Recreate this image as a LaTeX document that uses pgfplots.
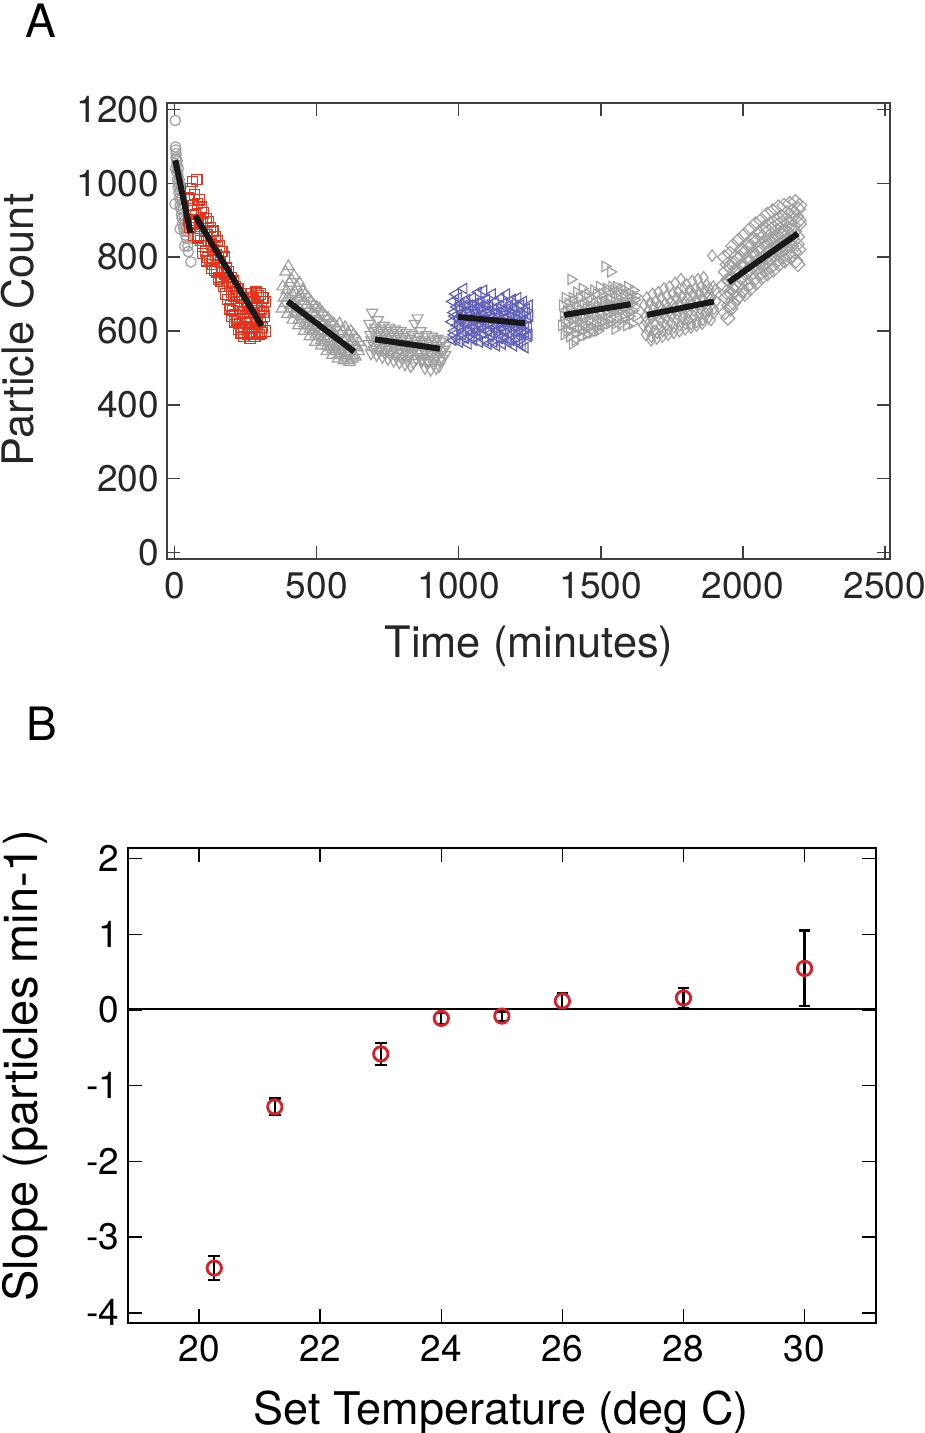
\documentclass[border=0pt]{standalone}
\usepackage{pgfplots}
\pgfplotsset{compat=1.18}
\usepackage{fontspec}
\setmainfont{TeX Gyre Heros}
\definecolor{ptgray}{RGB}{160,160,160}
\definecolor{ptred}{RGB}{232,50,28}
\definecolor{ptblue}{RGB}{96,96,186}
\definecolor{bred}{RGB}{220,30,40}
\definecolor{fitline}{RGB}{25,25,25}
\begin{document}
\begin{tikzpicture}
\path[use as bounding box] (0,0) rectangle (462.5pt,-716.5pt);
\node[anchor=base, font=\fontsize{23}{26}\selectfont] at (20.5pt,-19pt) {A};
\node[anchor=base, font=\fontsize{23}{26}\selectfont] at (21pt,-370pt) {B};
\begin{axis}[
  at={(83.65pt,-279.65pt)}, anchor=south west,
  scale only axis, width=361.35pt, height=228.3pt,
  xmin=-26, xmax=2518, ymin=-18, ymax=1218,
  xtick={0,500,...,2500}, ytick={0,200,...,1200},
  tick align=inside, tick pos=both, major tick length=6.5pt,
  axis line style={draw=black!75, line width=1pt},
  tick style={black!75, line width=0.7pt},
  scaled ticks=false,
  clip marker paths=true,
  /pgf/number format/assume math mode=true,
  /pgf/number format/1000 sep={},
  ticklabel style={font=\fontsize{18.5}{21}\selectfont, text=black!85},
  yticklabel style={inner sep=0pt, xshift=-4pt},
  xticklabel style={inner sep=0pt, yshift=-6.2pt},
  xlabel={Time (minutes)}, ylabel={Particle Count},
  label style={font=\fontsize{21.7}{24}\selectfont, text=black!85},
  xlabel style={at={(axis description cs:0.5005,-0.214)}, anchor=base},
  ylabel style={at={(axis description cs:-0.1858,0.502)}, anchor=base},
  fitstyle/.style={draw=fitline, solid, line width=3pt, mark=none, line cap=butt},
]
% segment 1: gray circles
\addplot[only marks, mark=o, mark size=2.6pt, mark options={draw=ptgray, line width=0.6pt}] coordinates {
(2,1170) (4,1090) (5,1080) (6,1065) (3,1040) (7,1050) (8,1030) (9,1060) (10,1010) (11,1025) (12,990) (13,1040) (14,1000) (15,975) (16,1010) (17,960) (18,995) (19,940) (20,980) (21,955) (22,930) (23,990) (24,915) (25,960) (26,905) (27,945) (28,890) (30,930) (31,880) (33,910) (34,870) (36,900) (38,860) (40,880) (42,850) (44,870) (46,830) (48,815) (57,787) (35,830) (1,944) (19,876) (3,1098) (5,1070)
};
% segment 2: red squares
\addplot[only marks, mark=square, mark size=2.6pt, mark options={draw=ptred, line width=0.6pt}] coordinates {
(48,960) (51,900)
(55,985) (58,925) (53,880)
(62,1005) (65,940) (60,890)
(70,970) (73,915) (68,860)
(78,1010) (81,945) (76,895) (82,850)
(86,955) (89,900) (84,855)
(94,935) (97,890) (92,845) (98,810)
(102,920) (105,870) (100,830)
(110,905) (113,860) (108,815) (114,790)
(118,895) (121,845) (116,800)
(126,880) (129,835) (124,790) (130,770)
(134,870) (137,820) (132,780)
(142,855) (145,805) (140,765)
(150,845) (153,800) (148,760) (154,740)
(158,830) (161,785) (156,745)
(166,815) (169,770) (164,735)
(174,800) (177,755) (172,720)
(182,770) (185,735) (180,700)
(190,760) (193,720) (188,685) (194,660)
(198,745) (201,705) (196,670) (202,640)
(206,735) (209,695) (204,655) (210,625)
(214,720) (217,680) (212,645)
(222,715) (225,670) (220,630) (226,605)
(230,700) (233,660) (228,620) (234,595)
(238,690) (241,650) (236,610) (242,585)
(246,680) (249,640) (244,605)
(254,700) (257,660) (252,620) (258,590)
(262,690) (265,650) (260,610) (266,580)
(270,700) (273,665) (268,625) (274,595)
(278,690) (281,650) (276,610) (282,585)
(286,705) (289,670) (284,630) (290,600)
(294,695) (297,655) (292,620) (298,590)
(302,700) (305,660) (300,625) (306,595)
(310,690) (313,650) (308,610)
(318,680) (316,640) (320,600)
};
% segment 3: gray up triangles
\addplot[only marks, mark=triangle, mark size=3.2pt, mark options={draw=ptgray, line width=0.6pt}] coordinates {
(380,720) (384,690) (377,660)
(390,760) (394,710) (387,675) (396,645)
(400,775) (404,730) (397,690) (406,660)
(410,740) (414,700) (407,670) (416,645)
(420,750) (424,705) (417,675) (426,650) (415,630)
(430,720) (434,690) (427,660) (436,630)
(440,730) (444,695) (437,665) (446,640) (435,615)
(450,710) (454,680) (447,650) (456,620)
(460,700) (464,670) (457,640) (466,615) (455,600)
(470,690) (474,660) (467,635) (476,605)
(480,680) (484,650) (477,625) (486,600) (475,585)
(490,670) (494,645) (487,615) (496,590)
(500,665) (504,635) (497,610) (506,585) (495,570)
(510,660) (514,625) (507,600) (516,575)
(520,650) (524,620) (517,595) (526,570) (515,560)
(530,640) (534,610) (527,585) (536,560)
(540,635) (544,605) (537,580) (546,555) (535,545)
(550,625) (554,595) (547,570) (556,550)
(560,620) (564,590) (557,565) (566,545) (555,535)
(570,610) (574,580) (567,555) (576,535)
(580,620) (584,590) (577,560) (586,540) (575,525)
(590,600) (594,575) (587,550) (596,530)
(600,610) (604,580) (597,555) (606,535) (595,520)
(610,595) (614,565) (607,540) (616,520)
(620,600) (624,570) (617,545) (626,525) (615,515)
(630,590) (634,560) (627,535)
(640,580) (644,555) (637,530)
(650,570) (648,545)
};
% segment 4: gray down triangles
\addplot[only marks, mark=triangle, mark size=3.2pt, mark options={draw=ptgray, line width=0.6pt, rotate=180}] coordinates {
(685,620) (689,590) (682,565) (691,540)
(695,650) (699,600) (692,575) (701,550)
(705,610) (709,585) (702,560) (711,535)
(715,630) (719,595) (712,570) (721,545)
(725,605) (729,580) (722,555) (731,530)
(735,615) (739,590) (732,565) (741,540)
(745,600) (749,575) (742,550) (751,525)
(755,610) (759,585) (752,560) (761,535)
(765,595) (769,570) (762,545) (771,520)
(775,605) (779,580) (772,555) (781,530)
(785,590) (789,565) (782,540) (791,515)
(795,600) (799,575) (792,550) (801,525)
(805,585) (809,560) (802,540) (811,510)
(815,595) (819,570) (812,545) (821,520)
(825,580) (829,555) (822,535) (831,505)
(835,590) (839,565) (832,540) (841,515)
(845,620) (849,575) (842,550) (851,525)
(855,635) (859,585) (852,560) (861,530)
(865,600) (869,570) (862,545) (871,520)
(875,575) (879,550) (872,525) (881,500)
(885,590) (889,565) (882,540) (891,515)
(895,570) (899,545) (892,520) (901,495)
(905,585) (909,560) (902,535) (911,510)
(915,575) (919,550) (912,525) (921,500)
(925,580) (929,555) (922,530) (931,505)
(935,570) (939,545) (932,520)
(945,575) (949,550) (942,525)
(955,560) (952,535)
};
% segment 5: blue left triangles
\addplot[only marks, mark=triangle, mark size=3.0pt, mark options={draw=ptblue, line width=0.6pt, rotate=90}] coordinates {
(978,680) (982,650) (975,625) (984,600) (980,575)
(988,700) (992,665) (985,640) (994,615) (983,590)
(998,690) (1002,660) (995,635) (1004,610) (993,580)
(1008,675) (1012,650) (1005,625) (1014,600) (1003,570)
(1018,715) (1022,670) (1015,645) (1024,620) (1013,590)
(1028,685) (1032,655) (1025,630) (1034,605) (1023,580)
(1038,670) (1042,645) (1035,620) (1044,595) (1033,565)
(1048,690) (1052,660) (1045,635) (1054,610) (1043,585)
(1058,675) (1062,650) (1055,625) (1064,600) (1053,575)
(1068,705) (1072,665) (1065,640) (1074,615) (1063,590)
(1078,680) (1082,655) (1075,630) (1084,605) (1073,570)
(1088,710) (1092,670) (1085,645) (1094,620) (1083,595)
(1098,685) (1102,655) (1095,630) (1104,600) (1093,575)
(1108,670) (1112,645) (1105,620) (1114,595) (1103,565)
(1118,700) (1122,660) (1115,635) (1124,610) (1113,585)
(1128,680) (1132,650) (1125,625) (1134,600) (1123,570)
(1138,665) (1142,640) (1135,615) (1144,590) (1133,560)
(1148,690) (1152,655) (1145,630) (1154,605) (1143,580)
(1158,675) (1162,645) (1155,620) (1164,595) (1153,565)
(1168,700) (1172,660) (1165,635) (1174,610) (1163,580)
(1178,670) (1182,645) (1175,620) (1184,590) (1173,570)
(1188,685) (1192,655) (1185,625) (1194,600) (1183,575)
(1198,665) (1202,640) (1195,615) (1204,590) (1193,560)
(1208,690) (1212,650) (1205,625) (1214,600) (1203,575)
(1218,670) (1222,640) (1215,615) (1224,590) (1213,565)
(1228,680) (1232,650) (1225,620) (1234,595) (1223,560)
(1238,660) (1242,635) (1235,610) (1244,585) (1233,555)
(1248,670) (1250,640) (1245,615) (1247,590)
};
% segment 6: gray right triangles
\addplot[only marks, mark=triangle, mark size=3.0pt, mark options={draw=ptgray, line width=0.6pt, rotate=-90}] coordinates {
(1365,670) (1369,640) (1362,615) (1371,590)
(1375,690) (1379,655) (1372,625) (1381,600)
(1385,675) (1389,645) (1382,620) (1391,585)
(1395,740) (1399,690) (1392,660) (1401,630) (1390,600) (1400,565)
(1405,680) (1409,650) (1402,620) (1411,595)
(1415,705) (1419,665) (1412,635) (1421,610) (1410,575)
(1425,690) (1429,655) (1422,625) (1431,600)
(1435,715) (1439,670) (1432,640) (1441,615) (1430,585)
(1445,695) (1449,660) (1442,635) (1451,605)
(1455,700) (1459,670) (1452,645) (1461,615) (1450,590)
(1465,690) (1469,660) (1462,630) (1471,605)
(1475,710) (1479,675) (1472,645) (1481,620) (1470,595)
(1485,700) (1489,665) (1482,640) (1491,610)
(1495,720) (1499,680) (1492,650) (1501,625) (1490,600)
(1505,700) (1509,670) (1502,645) (1511,615)
(1515,775) (1519,715) (1512,680) (1521,655) (1510,625)
(1525,705) (1529,675) (1522,645) (1531,620)
(1535,760) (1539,720) (1532,685) (1541,660) (1530,630)
(1545,710) (1549,680) (1542,650) (1551,620)
(1555,720) (1559,690) (1552,660) (1561,635) (1550,605)
(1565,705) (1569,675) (1562,650) (1571,620)
(1575,715) (1579,690) (1572,660) (1581,635)
(1585,700) (1589,675) (1582,645) (1591,615)
(1595,720) (1599,690) (1592,665) (1601,640)
(1605,700) (1609,675) (1602,650) (1611,620)
(1615,710) (1619,685) (1612,655)
(1623,695) (1620,665) (1625,640)
};
% segment 7: gray diamonds
\addplot[only marks, mark=diamond, mark size=2.9pt, mark options={draw=ptgray, line width=0.6pt}] coordinates {
(1652,670) (1656,640) (1649,615) (1658,590)
(1662,690) (1666,655) (1659,625) (1668,600)
(1672,675) (1676,645) (1669,610) (1678,585)
(1682,700) (1686,665) (1679,635) (1688,600) (1677,575)
(1692,680) (1696,650) (1689,620) (1698,595)
(1702,705) (1706,670) (1699,640) (1708,610) (1697,580)
(1712,690) (1716,660) (1709,630) (1718,600)
(1722,715) (1726,675) (1719,645) (1728,615) (1717,585)
(1732,695) (1736,665) (1729,635) (1738,605)
(1742,720) (1746,680) (1739,650) (1748,620) (1737,590)
(1752,700) (1756,670) (1749,640) (1758,610)
(1762,730) (1766,690) (1759,660) (1768,630) (1757,595)
(1772,705) (1776,675) (1769,645) (1778,615)
(1782,740) (1786,695) (1779,665) (1788,635) (1777,600)
(1792,715) (1796,680) (1789,650) (1798,620)
(1802,725) (1806,690) (1799,660) (1808,630) (1797,605)
(1812,710) (1816,680) (1809,650) (1818,620)
(1822,735) (1826,700) (1819,670) (1828,640) (1817,610)
(1832,715) (1836,685) (1829,655) (1838,625)
(1842,740) (1846,705) (1839,675) (1848,645) (1837,615)
(1852,720) (1856,690) (1849,660) (1858,630)
(1862,745) (1866,710) (1859,680) (1868,650) (1857,620)
(1872,725) (1876,695) (1869,665) (1878,635)
(1882,715) (1886,685) (1879,655) (1888,630)
(1892,804) (1896,720) (1889,690) (1898,660)
(1902,710) (1906,680) (1899,650)
};
% segment 8: gray squares turned 45 degrees
\addplot[only marks, mark=square, mark size=2.5pt, mark options={draw=ptgray, line width=0.6pt, rotate=45}] coordinates {
(1935,800) (1939,760) (1932,725) (1941,690) (1937,650)
(1945,780) (1949,740) (1942,705) (1951,670) (1947,635)
(1955,810) (1959,770) (1952,735) (1961,700) (1957,660)
(1965,830) (1969,785) (1962,745) (1971,710) (1967,675)
(1975,800) (1979,760) (1972,725) (1981,690)
(1985,845) (1989,800) (1982,765) (1991,730) (1987,695)
(1995,820) (1999,780) (1992,745) (2001,710)
(2005,860) (2009,815) (2002,775) (2011,740) (2007,700)
(2015,835) (2019,795) (2012,760) (2021,725)
(2025,875) (2029,830) (2022,790) (2031,755) (2027,715)
(2035,850) (2039,810) (2032,775) (2041,740)
(2045,890) (2049,845) (2042,805) (2051,770) (2047,730)
(2055,865) (2059,825) (2052,790) (2061,755)
(2065,900) (2069,855) (2062,815) (2071,780) (2067,745)
(2075,880) (2079,840) (2072,800) (2081,765)
(2085,915) (2089,870) (2082,830) (2091,795) (2087,755)
(2095,890) (2099,850) (2092,815) (2101,775)
(2105,925) (2109,880) (2102,840) (2111,805) (2107,765)
(2115,900) (2119,860) (2112,825) (2121,790)
(2125,935) (2129,890) (2122,850) (2131,815) (2127,780)
(2135,910) (2139,870) (2132,835) (2141,800)
(2145,940) (2149,900) (2142,860) (2151,825) (2147,790)
(2155,920) (2159,880) (2152,845) (2161,810)
(2165,945) (2169,905) (2162,865) (2171,830) (2167,800)
(2175,925) (2179,885) (2172,850) (2181,815)
(2185,950) (2189,910) (2182,870) (2191,835) (2187,790)
(2195,930) (2199,890) (2192,855) (2197,820) (2194,780)
(2200,940) (2198,900)
};
% fitted lines
\addplot[fitstyle] coordinates {(2,1062) (56,865)};
\addplot[fitstyle] coordinates {(72,912) (306,614)};
\addplot[fitstyle] coordinates {(398,680) (632,544)};
\addplot[fitstyle] coordinates {(705,577.5) (934,552)};
\addplot[fitstyle] coordinates {(998,638) (1233,621)};
\addplot[fitstyle] coordinates {(1371,643.5) (1605,672.5)};
\addplot[fitstyle] coordinates {(1663,643.5) (1898,680)};
\addplot[fitstyle] coordinates {(1950,732) (2194,864)};
\end{axis}

\begin{axis}[
  at={(64.15pt,-661.65pt)}, anchor=south west,
  scale only axis, width=373.85pt, height=237.5pt,
  xmin=18.83, xmax=31.18, ymin=-4.14, ymax=2.137,
  xtick={20,22,...,30}, ytick={-4,-3,...,2},
  tick align=inside, tick pos=both, major tick length=7pt,
  axis line style={draw=black, line width=1pt},
  tick style={black, line width=0.8pt},
  /pgf/number format/assume math mode=true,
  ticklabel style={font=\fontsize{18.5}{21}\selectfont},
  yticklabel style={inner sep=0pt, xshift=-4.5pt},
  xticklabel style={inner sep=0pt, yshift=-5.85pt},
  xlabel={Set Temperature (deg C)}, ylabel={Slope (particles min-1)},
  xlabel style={font=\fontsize{22.5}{25}\selectfont, at={(axis description cs:0.4991,-0.212)}, anchor=base},
  ylabel style={font=\fontsize{23.5}{26}\selectfont, at={(axis description cs:-0.1208,0.5417)}, anchor=base},
]
\addplot[black, line width=0.9pt, no marks, forget plot] coordinates {(18.83,0.01) (31.18,0.01)};
\addplot[only marks, mark=o, mark size=3.6pt, mark options={draw=bred, line width=1.4pt},
  error bars/.cd, y dir=both, y explicit,
  error bar style={black, line width=1.1pt},
  error mark options={black, line width=1.1pt, mark size=2.9pt, rotate=90}]
coordinates {
(20.25,-3.41) +- (0,0.16)
(21.25,-1.28) +- (0,0.11)
(23,-0.58) +- (0,0.145)
(24,-0.11) +- (0,0.07)
(25,-0.08) +- (0,0.06)
(26,0.12) +- (0,0.10)
(28,0.16) +- (0,0.135)
(30,0.55) +- (0,0.50)
};
\end{axis}
\end{tikzpicture}
\end{document}
